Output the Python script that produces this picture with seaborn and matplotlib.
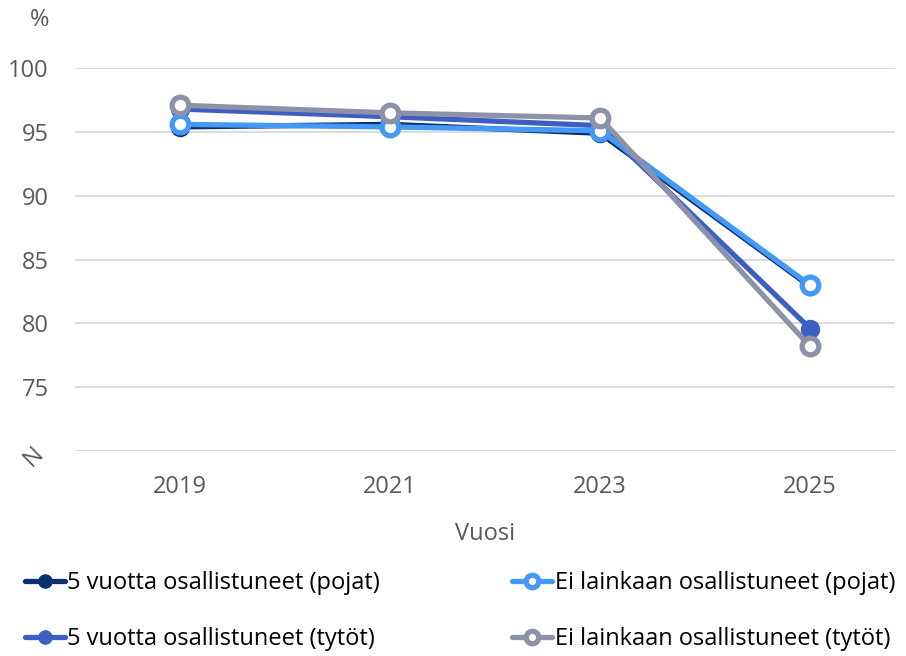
import pandas as pd
import matplotlib
matplotlib.use("Agg")
import matplotlib.pyplot as plt
import seaborn as sns

years = [2019, 2021, 2023, 2025]
series_names = [
    "5 vuotta osallistuneet (pojat)",
    "5 vuotta osallistuneet (tytöt)",
    "Ei lainkaan osallistuneet (pojat)",
    "Ei lainkaan osallistuneet (tytöt)",
]
poika_5v = [95.4, 95.6, 94.9, 82.9]
tytto_5v = [96.8, 96.2, 95.5, 79.6]
poika_ei = [95.6, 95.4, 95.1, 83.0]
tytto_ei = [97.1, 96.5, 96.1, 78.2]
y_ticks = [70, 75, 80, 85, 90, 95, 100]
y_tick_labels = ["N", "75", "80", "85", "90", "95", "100"]

colors = ["#0c2f6e", "#3d5fc4", "#4499f7", "#8e92a8"]
filled = [True, True, False, False]

df = pd.DataFrame({
    "Vuosi": years * 4,
    "arvo": poika_5v + tytto_5v + poika_ei + tytto_ei,
    "sarja": [n for n in series_names for _ in years],
})

sns.set_theme(style="white")
plt.rcParams["font.family"] = ["Open Sans", "DejaVu Sans"]

fig = plt.figure(figsize=(9.06, 6.56), dpi=100)
ax = fig.add_axes([0.083, 0.3125, 0.905, 0.5835])

for i, name in enumerate(series_names):
    d = df[df["sarja"] == name]
    sns.lineplot(data=d, x="Vuosi", y="arvo", ax=ax, color=colors[i], linewidth=3.8,
                 marker="o", markersize=14 if filled[i] else 12,
                 markerfacecolor=colors[i] if filled[i] else "white",
                 markeredgecolor=colors[i], markeredgewidth=0 if filled[i] else 3.8,
                 label=name, zorder=3 + i)

ax.set_xlim(2018.0, 2025.81)
ax.set_ylim(70, 100)
ax.set_xticks(years)
ax.set_xticklabels([str(y) for y in years])
ax.set_yticks(y_ticks)
ax.set_yticklabels(y_tick_labels)
ax.yaxis.grid(True, color="#d9d9d9", linewidth=1.3)
ax.xaxis.grid(False)
for s in ax.spines.values():
    s.set_visible(False)
ax.tick_params(axis="both", length=0, labelsize=17, labelcolor="#595959")
ax.tick_params(axis="y", pad=19)
ax.tick_params(axis="x", pad=17)
ax.get_yticklabels()[0].set_rotation(45)

ax.set_xlabel("Vuosi", fontsize=17, color="#595959", labelpad=17)
ax.set_ylabel("")
ax.text(-0.043, 1.125, "%", transform=ax.transAxes, ha="center", va="center",
        fontsize=17, color="#595959")

ax.legend(loc="upper left", bbox_to_anchor=(-0.073, -0.29), ncol=2, frameon=False,
          fontsize=17, handlelength=1.7, handletextpad=0.1, columnspacing=5.6,
          labelspacing=1.35, borderaxespad=0, markerscale=0.75)
for t in ax.get_legend().get_texts():
    t.set_color("#000000")

fig.savefig("out.png", dpi=100)
